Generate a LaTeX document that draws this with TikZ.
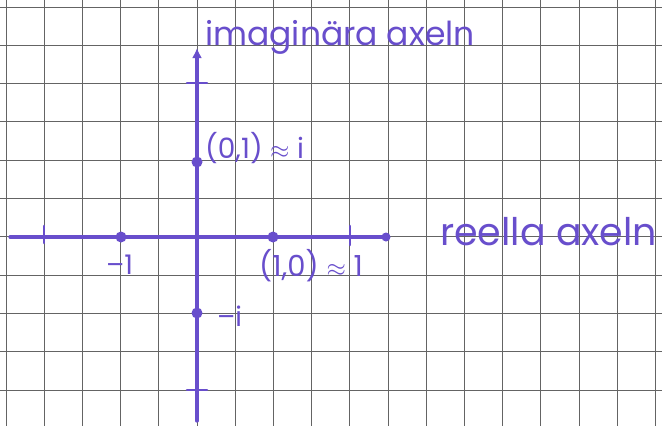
\documentclass[tikz,border=0pt]{standalone}
\usepackage{fontspec}
\setmainfont{Poppins}
\usetikzlibrary{arrows.meta}
\definecolor{ink}{RGB}{104,78,204}
\definecolor{gridc}{RGB}{100,100,100}
\tikzset{
  gridline/.style={draw=gridc, line width=1pt},
  axisline/.style={draw=ink, line width=3.2pt, line cap=round},
  tickline/.style={draw=ink, line width=2.6pt, line cap=round},
  dotnode/.style={circle, fill=ink, inner sep=0pt, minimum size=11pt},
  bigtxt/.style={text=ink, inner sep=0pt},
  smalltxt/.style={text=ink, inner sep=0pt, font=\fontsize{27}{27}\selectfont},
}
\begin{document}
\begin{tikzpicture}[x=1pt,y=-1pt]
\useasboundingbox[fill=white] (0,0) rectangle (662,426);
% grid paper
\foreach \k in {0,...,17} {\draw[gridline] ({6+38.2*\k},0) -- ({6+38.2*\k},426);}
\foreach \k in {0,...,11} {\draw[gridline] (0,{7+38.3*\k}) -- (662,{7+38.3*\k});}
% axes
\coordinate (xl) at (10,237);
\node[dotnode, minimum size=9pt] (xr) at (386,237) {};
\coordinate (yb) at (197,421);
\coordinate (yt) at (197,48);
\draw[axisline] (xl) -- (xr.center);
\draw[axisline, -{Latex[length=10pt,width=10pt]}] (yb) -- (yt);
% ticks and points on real axis
\coordinate (tm2) at (44,237);
\draw[tickline] ([yshift=-6pt]tm2) -- ([yshift=11pt]tm2);
\node[dotnode] (m1) at (121,237) {};
\node[dotnode] (p1) at (273,237) {};
\coordinate (tp2) at (350,237);
\draw[tickline] ([yshift=-8pt]tp2) -- ([yshift=11pt]tp2);
% ticks and points on imaginary axis
\coordinate (ti2) at (197,83);
\draw[tickline] ([xshift=-10pt]ti2) -- ([xshift=10pt]ti2);
\node[dotnode] (pi) at (197,162) {};
\node[dotnode] (mi) at (197,313) {};
\coordinate (tmi2) at (197,390);
\draw[tickline] ([xshift=-10pt]tmi2) -- ([xshift=10pt]tmi2);
% labels
\node[bigtxt, font=\fontsize{33}{33}\selectfont, anchor=base west] (imlab) at (205,45) {imaginära axeln};
\node[bigtxt, font=\fontsize{38}{38}\selectfont, anchor=base west] (relab) at (440,245) {reella axeln};
\node[smalltxt, font=\fontsize{28}{28}\selectfont, anchor=base west] (pilab) at (205,158) {(0,1) $\approx$ i};
\node[smalltxt, anchor=base west] (m1lab) at (106,274) {–1};
\node[smalltxt, font=\fontsize{29}{29}\selectfont, anchor=base west] (p1lab) at (259,276) {(1,0) $\approx$ 1};
\node[smalltxt, anchor=base west] (milab) at (217,326) {–i};
\end{tikzpicture}
\end{document}
